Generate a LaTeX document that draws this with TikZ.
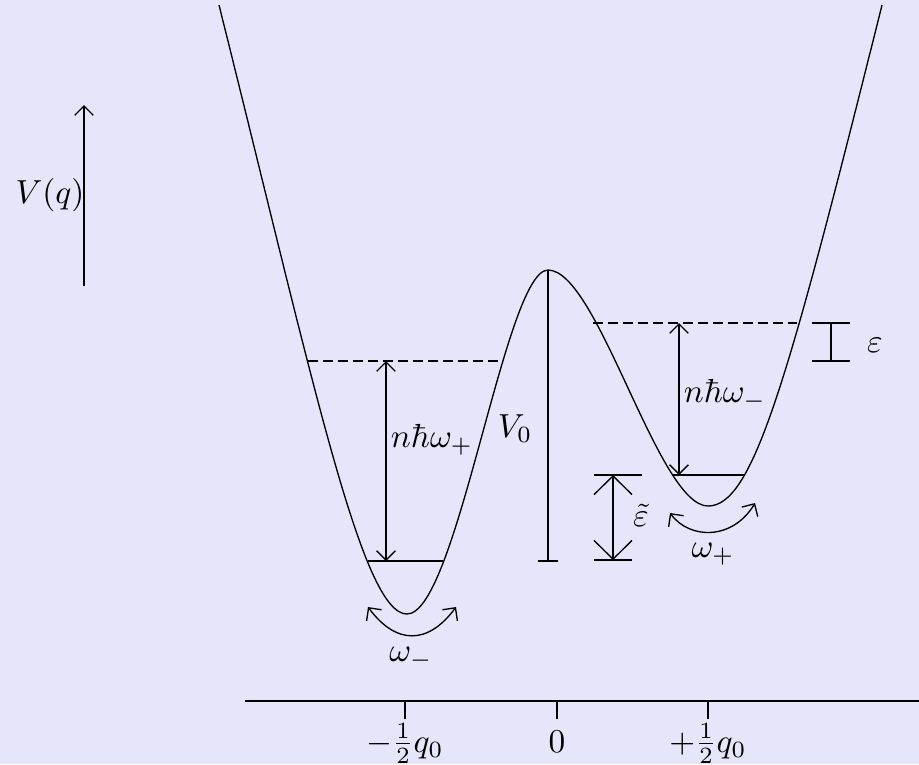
\documentclass[tikz,border=0pt]{standalone}
\usepackage{xcolor}
\usepackage{tikz}
\usetikzlibrary{arrows.meta}
\definecolor{lavender}{HTML}{E6E6FA}

\begin{document}
\begin{tikzpicture}[
  x=0.3pt, y=-0.3pt,
  span/.style={{Straight Barb[length=2.8pt,width=5.6pt]}-{Straight Barb[length=2.8pt,width=5.6pt]}},
  bigspan/.style={{Straight Barb[length=5.6pt,width=11.4pt]}-{Straight Barb[length=5.6pt,width=11.4pt]}},
  upaxis/.style={-{Straight Barb[length=2.8pt,width=5.6pt]}},
  level/.style={dash pattern=on 3pt off 1.5pt}
]
\fill[lavender] (0,0) rectangle (919,764);
\useasboundingbox (0,0) rectangle (919,764);

% potential
\coordinate (ltop) at (219,5);
\coordinate (lmin) at (407,614);
\coordinate (peak) at (548,270);
\coordinate (rmin) at (708,506);
\coordinate (rtop) at (882,5);
\draw (ltop) .. controls (314,385) and (362,614) .. (lmin)
  .. controls (457,614) and (505,270) .. (peak)
  .. controls (598,270) and (658,506) .. (rmin)
  .. controls (753,506) and (787,385) .. (rtop);

% V(q) axis
\coordinate (vbot) at (84,286);
\coordinate (vtop) at (84,105);
\draw[upaxis] (vbot) -- (vtop);
\node (vq) at (50,195) {$V(q)$};

% q axis
\coordinate (qstart) at (245,701);
\coordinate (qend) at (919,701);
\draw (qstart) -- (qend);
\foreach \x/\lab in {405/{$-\frac{1}{2}q_0$}, 557/{$0$}, 708/{$+\frac{1}{2}q_0$}} {
  \draw (\x,701) -- (\x,719);
  \node[anchor=base] (tick\x) at (\x,752) {\lab};
}

% left well
\coordinate (lhi1) at (308,361);
\coordinate (lhi2) at (500,361);
\coordinate (llo1) at (368,561);
\coordinate (llo2) at (443,561);
\draw[level] (lhi1) -- (lhi2);
\draw (llo1) -- (llo2);
\draw[span] (386,361) -- (386,561);
\node (nwp) at (432,440) {$n\hbar\omega_+$};
\draw[span] (368,607) .. controls (396,645) and (428,645) .. (456,607);
\node (wm) at (411,658) {$\omega_-$};

% barrier
\coordinate (v0foot) at (548,561);
\draw (peak) -- (v0foot);
\draw (538,561) -- (558,561);
\node (v0) at (515,429) {$V_0$};

% right well
\coordinate (rhi1) at (593,323);
\coordinate (rhi2) at (797,323);
\coordinate (rlo1) at (672,475);
\coordinate (rlo2) at (745,475);
\draw[level] (rhi1) -- (rhi2);
\draw (rlo1) -- (rlo2);
\draw[span] (679,323) -- (679,475);
\node (nwm) at (725,395) {$n\hbar\omega_-$};
\draw[span] (670,513) .. controls (690,540) and (733,540) .. (755,503);
\node (wp) at (713,554) {$\omega_+$};

% epsilon
\draw (812,323) -- (850,323);
\draw (812,361) -- (850,361);
\draw (831,323) -- (831,361);
\node (eps) at (875,345) {$\varepsilon$};

% tilde epsilon
\draw (594,475) -- (642,475);
\draw (594,560) -- (632,560);
\draw[bigspan] (613,475) -- (613,560);
\node (epst) at (641,515) {$\tilde{\varepsilon}$};
\end{tikzpicture}
\end{document}
